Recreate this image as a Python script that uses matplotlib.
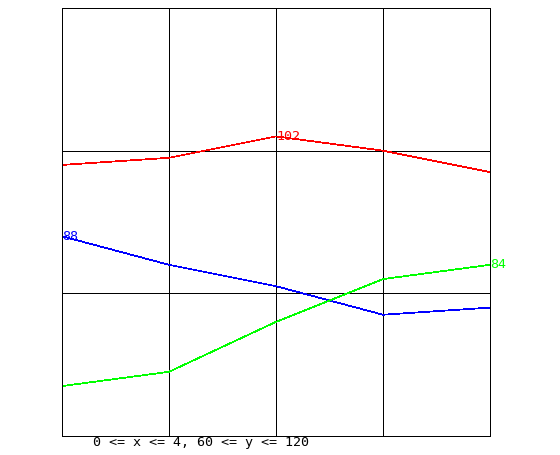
import matplotlib
matplotlib.use('Agg')
from matplotlib import pyplot as plt

xs = [0, 1, 2, 3, 4]
red = [98, 99, 102, 100, 97]
blue = [88, 84, 81, 77, 78]
green = [67, 69, 76, 82, 84]

# labelled points: (series, index)
labels = [(red, 2, 'red'), (blue, 0, 'blue'), (green, 4, '#00ff00')]

W, H = 560, 455
fig = plt.figure(figsize=(W / 100, H / 100), dpi=100)
ax = fig.add_axes([62 / W, (H - 436) / H, 428 / W, 428 / H])

lw = 0.72  # one pixel
ax.plot(xs, red, color='red', lw=0.5, antialiased=False)
ax.plot(xs, blue, color='blue', lw=0.5, antialiased=False)
ax.plot(xs, green, color='#00ff00', lw=0.5, antialiased=False)

for ys, i, c in labels:
    ax.text(xs[i], ys[i], str(ys[i]), color=c, fontsize=9.6,
            family='DejaVu Sans Mono', ha='left', va='center')

ax.set_xlim(0, 4)
ax.set_ylim(60, 120)
ax.set_xticks([1, 2, 3])
ax.set_yticks([80, 100])
ax.grid(True, color='black', lw=lw, antialiased=False)
ax.tick_params(length=0, labelbottom=False, labelleft=False)
for s in ax.spines.values():
    s.set_linewidth(lw)

fig.text(93 / W, 1 - 436 / H, '0 <= x <= 4, 60 <= y <= 120', fontsize=9.6,
         family='DejaVu Sans Mono', ha='left', va='top')

fig.savefig('out.png', dpi=100)
